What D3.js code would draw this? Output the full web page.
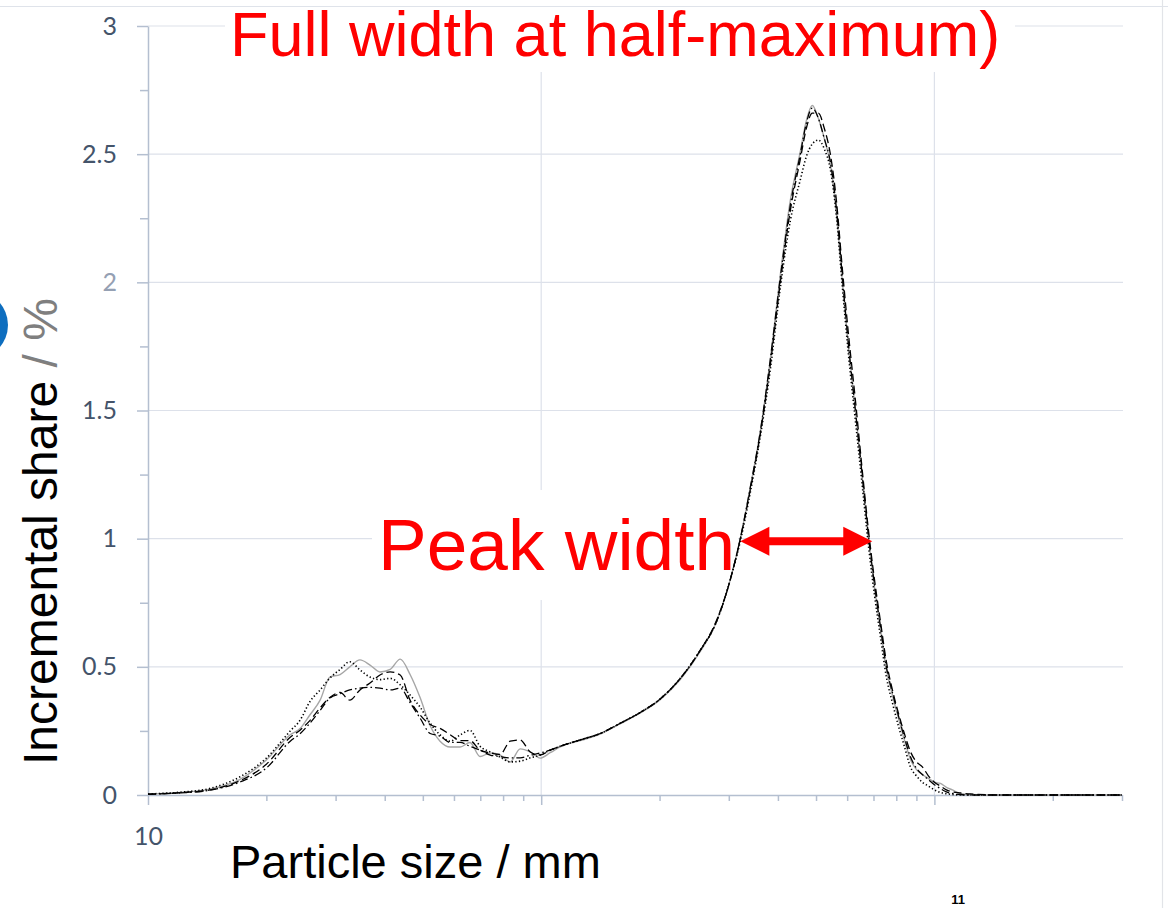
<!DOCTYPE html>
<html>
<head>
<meta charset="utf-8">
<script src="https://cdn.jsdelivr.net/npm/d3@7"></script>
<style>
  html, body { margin: 0; padding: 0; background: #fff; }
  svg { display: block; }
</style>
</head>
<body>
<svg id="chart" width="1168" height="908"></svg>
<script>
// Particle size classes (mm), log-spaced measurement bins
const sizes = [10, 12.1, 14.4, 17.1, 20, 23, 24.4, 25.8, 27.4, 29, 30.8, 32.6, 34.6, 36.7, 38.9, 41.3, 43.8, 46.4, 49.2, 52.2,
  55.3, 58.7, 62.2, 65.9, 69.9, 74.2, 78.6, 83.4, 88.4, 93.8, 99.4, 105.4, 111.8, 125.7, 141.3, 158.9, 178.6, 200.8, 225.8, 253.9,
  277.2, 302.6, 320.9, 340.2, 360.9, 382.6, 405.7, 430.1, 456, 472.3, 489.3, 506.8, 525, 543.8, 563.3, 583.5, 604.4, 629.7, 656.1, 680,
  704.1, 728.7, 754.9, 782, 809.8, 838.7, 868.7, 899.5, 932, 965.2, 1000, 1036, 1073, 1111, 1164, 1235, 1472, 1974, 3000];

// Incremental share (%) of four repeated measurements
const runSolid = [0.004, 0.01, 0.023, 0.06, 0.137, 0.235, 0.26, 0.312, 0.37, 0.46,
  0.47, 0.50, 0.527, 0.507, 0.48, 0.49, 0.53, 0.47, 0.38, 0.27,
  0.21, 0.187, 0.187, 0.205, 0.15, 0.164, 0.156, 0.129, 0.18, 0.168, 0.144,
  0.165, 0.188, 0.212, 0.238, 0.278, 0.32, 0.372, 0.45, 0.56, 0.665, 0.84,
  1.0, 1.2, 1.42, 1.7, 2.03, 2.32, 2.51, 2.63, 2.69, 2.64, 2.56, 2.46, 2.27,
  2.0, 1.75, 1.5, 1.23, 1.0, 0.81, 0.65, 0.49, 0.39, 0.3, 0.215, 0.14, 0.10, 0.08, 0.065,
  0.05, 0.045, 0.03, 0.02, 0.006, 0.002, 0, 0, 0];

const runDotted = [0.004, 0.011, 0.026, 0.07, 0.144, 0.25, 0.293, 0.364, 0.41, 0.456,
  0.49, 0.52, 0.488, 0.46, 0.45, 0.455, 0.43, 0.39, 0.343, 0.28,
  0.235, 0.21, 0.234, 0.252, 0.19, 0.168, 0.148, 0.129, 0.132, 0.145, 0.156,
  0.175, 0.19, 0.215, 0.24, 0.28, 0.322, 0.375, 0.455, 0.565, 0.665, 0.84,
  0.99, 1.18, 1.40, 1.66, 1.98, 2.24, 2.40, 2.49, 2.54, 2.555, 2.52, 2.44, 2.26,
  1.98, 1.72, 1.46, 1.2, 0.97, 0.78, 0.62, 0.46, 0.36, 0.27, 0.19, 0.11, 0.075, 0.05, 0.035,
  0.02, 0.01, 0.005, 0.002, 0, 0, 0, 0, 0];

const runDashed = [0.003, 0.009, 0.02, 0.055, 0.12, 0.225, 0.254, 0.29, 0.34, 0.38,
  0.40, 0.37, 0.41, 0.437, 0.468, 0.48, 0.468, 0.37, 0.312, 0.275,
  0.26, 0.235, 0.212, 0.212, 0.175, 0.164, 0.158, 0.21, 0.215, 0.168, 0.156,
  0.175, 0.19, 0.215, 0.24, 0.28, 0.322, 0.375, 0.455, 0.565, 0.67, 0.84,
  1.0, 1.19, 1.41, 1.68, 2.0, 2.28, 2.48, 2.6, 2.66, 2.66, 2.6, 2.5, 2.32,
  2.05, 1.8, 1.54, 1.26, 1.03, 0.84, 0.68, 0.52, 0.41, 0.32, 0.24, 0.17, 0.13, 0.11, 0.075,
  0.05, 0.035, 0.02, 0.012, 0.008, 0.004, 0, 0, 0];

const runDashDot = [0.003, 0.008, 0.019, 0.05, 0.105, 0.21, 0.24, 0.28, 0.33, 0.378,
  0.395, 0.41, 0.417, 0.42, 0.417, 0.41, 0.417, 0.36, 0.30, 0.24,
  0.23, 0.205, 0.205, 0.19, 0.175, 0.156, 0.15, 0.145, 0.145, 0.155, 0.164,
  0.175, 0.19, 0.215, 0.24, 0.28, 0.322, 0.375, 0.455, 0.565, 0.665, 0.84,
  1.0, 1.2, 1.42, 1.7, 2.02, 2.30, 2.50, 2.62, 2.68, 2.64, 2.56, 2.47, 2.29,
  2.02, 1.76, 1.5, 1.24, 1.01, 0.82, 0.66, 0.5, 0.4, 0.31, 0.225, 0.15, 0.105, 0.08, 0.06,
  0.04, 0.025, 0.012, 0.006, 0.002, 0, 0, 0, 0];

// Axis ticks
const xMajorTicks = [10, 100, 1000];
const xMinorTicks = [20, 30, 40, 50, 60, 70, 80, 90, 200, 300, 400, 500, 600, 700, 800, 900, 2000, 3000];
const xTickLabels = { 10: "10" };
const yMajorTicks = [0, 0.5, 1, 1.5, 2, 2.5, 3];
const yMinorTicks = [0.25, 0.75, 1.25, 1.75, 2.25, 2.75];
const yGridValues = [0.5, 1, 1.5, 2, 2.5, 3];
const xGridValues = [100, 1000];

// Peak-width annotation (size range in mm, drawn at share level)
const peakWidthSizes = [321, 695];
const peakWidthLevel = 0.99;

const series = [
  { name: "solid", values: runSolid, stroke: "#a6a6a6", dash: null, width: 1.4 },
  { name: "dotted", values: runDotted, stroke: "#000", dash: "1.3 2.3", width: 1.6 },
  { name: "dashed", values: runDashed, stroke: "#000", dash: "8 4", width: 1.3 },
  { name: "dashdot", values: runDashDot, stroke: "#000", dash: "8 3 1.6 3", width: 1.3 }
];

const svg = d3.select("#chart");
const x = d3.scaleLog().domain([10, 3000]).range([148, 1122]);
const y = d3.scaleLinear().domain([0, 3]).range([795, 26]);

// Slide frame lines
svg.append("line").attr("x1", 0).attr("x2", 1168).attr("y1", 6.5).attr("y2", 6.5)
  .attr("stroke", "#dfe3ea").attr("stroke-width", 1.2);
svg.append("line").attr("x1", 1162.5).attr("x2", 1162.5).attr("y1", 0).attr("y2", 908)
  .attr("stroke", "#e2e4e8").attr("stroke-width", 1.2);
svg.append("circle").attr("cx", -26).attr("cy", 325).attr("r", 34).attr("fill", "#0e6ebf");

// Gridlines
const grid = svg.append("g").attr("stroke", "#dde1ea").attr("stroke-width", 1.2);
grid.selectAll(".hg").data(yGridValues).join("line")
  .attr("x1", x(10)).attr("x2", x(3000) + 1)
  .attr("y1", d => y(d)).attr("y2", d => y(d));
grid.selectAll(".vg").data(xGridValues).join("line")
  .attr("x1", d => x(d)).attr("x2", d => x(d))
  .attr("y1", y(0)).attr("y2", y(3));

// White text boxes above gridlines
svg.append("rect").attr("x", 225).attr("y", 10).attr("width", 790).attr("height", 62).attr("fill", "#fff");
svg.append("rect").attr("x", 372).attr("y", 490).attr("width", 366).attr("height", 110).attr("fill", "#fff");

// Axes
const axisColor = "#b4bfd0";
const labelColor = "#44546a";

const xAxisG = svg.append("g").attr("transform", `translate(0,${y(0)})`)
  .call(d3.axisBottom(x).tickValues(xMajorTicks).tickSize(10).tickSizeOuter(0).tickPadding(22)
    .tickFormat(d => xTickLabels[d] || ""));
const xMinorG = svg.append("g").attr("transform", `translate(0,${y(0)})`)
  .call(d3.axisBottom(x).tickValues(xMinorTicks).tickSize(6).tickFormat(""));
xMinorG.select(".domain").remove();

const yAxisG = svg.append("g").attr("transform", `translate(${x(10)},0)`)
  .call(d3.axisLeft(y).tickValues(yMajorTicks).tickSize(11).tickSizeOuter(0).tickPadding(20)
    .tickFormat(d => String(d)));
const yMinorG = svg.append("g").attr("transform", `translate(${x(10)},0)`)
  .call(d3.axisLeft(y).tickValues(yMinorTicks).tickSize(8).tickFormat(""));
yMinorG.select(".domain").remove();

[xAxisG, xMinorG, yAxisG, yMinorG].forEach(g => {
  g.selectAll("path.domain").attr("stroke", axisColor).attr("stroke-width", 1.5);
  g.selectAll(".tick line").attr("stroke", axisColor).attr("stroke-width", 1.5);
  g.selectAll(".tick text").attr("fill", labelColor)
    .style("font-family", "Lato, 'Open Sans', sans-serif").style("font-size", "25px");
});
yAxisG.selectAll(".tick text").filter(d => d === 2).attr("fill", "#95a0b3");

// Distribution curves
const line = d3.line()
  .x(d => x(d[0]))
  .y(d => y(d[1]))
  .curve(d3.curveMonotoneX);

svg.append("g").selectAll("path").data(series).join("path")
  .attr("d", s => line(sizes.map((v, i) => [v, s.values[i]])))
  .attr("fill", "none")
  .attr("stroke", s => s.stroke)
  .attr("stroke-width", s => s.width)
  .attr("stroke-dasharray", s => s.dash)
  .attr("stroke-linejoin", "round");

// Texts
const sans = "'Liberation Sans', Arial, sans-serif";
svg.append("text").attr("x", 230).attr("y", 56)
  .attr("fill", "#ff0000").style("font-family", sans).style("font-size", "63px")
  .text("Full width at half-maximum)");

svg.append("text").attr("x", 378).attr("y", 570)
  .attr("fill", "#ff0000").style("font-family", sans).style("font-size", "73px")
  .text("Peak width");

svg.append("text").attr("x", 230).attr("y", 878)
  .attr("fill", "#000").style("font-family", sans).style("font-size", "47px")
  .text("Particle size / mm");

const yLab = svg.append("text").attr("transform", "translate(57,765) rotate(-90)")
  .style("font-family", sans).style("font-size", "48px");
yLab.append("tspan").attr("fill", "#000").text("Incremental share ");
yLab.append("tspan").attr("fill", "#7f7f7f").text("/ %");

svg.append("text").attr("x", 958).attr("y", 904).attr("text-anchor", "middle")
  .attr("fill", "#000").style("font-family", sans).style("font-size", "13px").style("font-weight", "bold")
  .text("11");

// Double-headed arrow marking the peak width
const ax1 = x(peakWidthSizes[0]), ax2 = x(peakWidthSizes[1]), ay = y(peakWidthLevel);
const hl = 29, hh = 14.5, st = 4;
const arrowPath = d3.path();
arrowPath.moveTo(ax1, ay);
arrowPath.lineTo(ax1 + hl, ay - hh);
arrowPath.lineTo(ax1 + hl, ay - st);
arrowPath.lineTo(ax2 - hl, ay - st);
arrowPath.lineTo(ax2 - hl, ay - hh);
arrowPath.lineTo(ax2, ay);
arrowPath.lineTo(ax2 - hl, ay + hh);
arrowPath.lineTo(ax2 - hl, ay + st);
arrowPath.lineTo(ax1 + hl, ay + st);
arrowPath.lineTo(ax1 + hl, ay + hh);
arrowPath.closePath();
svg.append("path").attr("d", arrowPath.toString()).attr("fill", "#ff0000");
</script>
</body>
</html>
